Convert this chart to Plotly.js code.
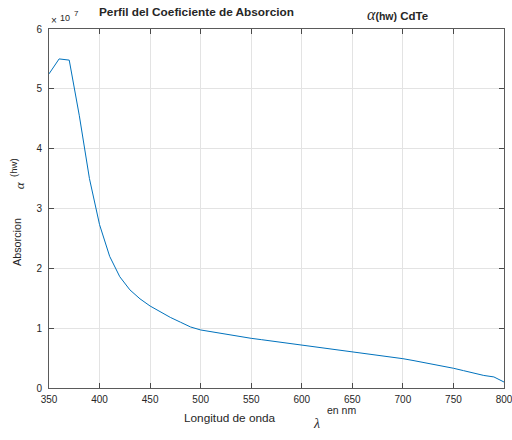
<!DOCTYPE html>
<html>
<head>
<meta charset="utf-8">
<script src="https://cdn.plot.ly/plotly-3.0.1.min.js"></script>
<style>html,body{margin:0;padding:0;background:#fff}#chart{width:512px;height:440px}</style>
</head>
<body>
<div id="chart"></div>
<script>
// Wavelength (nm)
var wavelength = [350,360,370,380,390,400,410,420,430,440,450,460,470,480,490,500,510,520,530,540,550,560,570,580,590,600,610,620,630,640,650,660,670,680,690,700,710,720,730,740,750,760,770,780,790,800];
// Absorption coefficient alpha(hw) CdTe, in units of 1e7
var absorcionE7 = [5.25,5.50,5.48,4.55,3.50,2.73,2.20,1.86,1.64,1.49,1.37,1.27,1.18,1.10,1.02,0.97,0.94,0.91,0.885,0.858,0.83,0.808,0.786,0.764,0.742,0.72,0.697,0.673,0.649,0.625,0.60,0.58,0.56,0.54,0.515,0.49,0.46,0.43,0.40,0.37,0.33,0.29,0.25,0.21,0.185,0.10];
var yTickVals = [0,1,2,3,4,5,6];
var xTickVals = [350,400,450,500,550,600,650,700,750,800];

var txt = '#262626';
var sans = 'Liberation Sans, Arial, sans-serif';
var serif = 'Liberation Serif, DejaVu Serif, serif';

var trace = {
  x: wavelength, y: absorcionE7, type: 'scatter', mode: 'lines',
  line: {color: '#0072BD', width: 1}, hoverinfo: 'skip'
};

var axisCommon = {
  showline: true, linecolor: '#5a5a5a', linewidth: 1, mirror: 'ticks',
  ticks: 'inside', ticklen: 5, tickcolor: '#4a4a4a', tickwidth: 1,
  showgrid: true, gridcolor: '#e3e3e3', gridwidth: 1, zeroline: false,
  tickfont: {family: sans, size: 10, color: txt}
};

var layout = {
  width: 512, height: 440,
  margin: {l: 49, r: 8, t: 29, b: 52},
  paper_bgcolor: '#ffffff', plot_bgcolor: '#ffffff',
  showlegend: false,
  xaxis: Object.assign({}, axisCommon, {range: [350, 800], tickvals: xTickVals, ticklabelstandoff: 2, ticklabeloverflow: 'allow'}),
  yaxis: Object.assign({}, axisCommon, {range: [0, 6], tickvals: yTickVals, ticklabelstandoff: 4}),
  annotations: [
    {text: '<b>Perfil del Coeficiente de Absorcion</b>', xref: 'paper', yref: 'paper', x: 0.325, y: 1.046, xanchor: 'center', yanchor: 'middle', showarrow: false, font: {family: sans, size: 11.8, color: txt}},
    {text: '<span style="font-family:Liberation Serif, DejaVu Serif, serif;font-style:italic;font-size:16px">α</span><span style="font-size:10.5px"><b>(hw)</b></span><b> CdTe</b>', xref: 'paper', yref: 'paper', x: 0.695, y: 1.040, xanchor: 'left', yanchor: 'middle', showarrow: false, font: {family: sans, size: 11.5, color: txt}},
    {text: '×', xref: 'paper', yref: 'paper', x: 0.0099, y: 1.023, xanchor: 'center', yanchor: 'middle', showarrow: false, font: {family: sans, size: 10, color: txt}},
    {text: '10', xref: 'paper', yref: 'paper', x: 0.035, y: 1.032, xanchor: 'center', yanchor: 'middle', showarrow: false, font: {family: sans, size: 9, color: txt}},
    {text: '7', xref: 'paper', yref: 'paper', x: 0.0615, y: 1.042, xanchor: 'center', yanchor: 'middle', showarrow: false, font: {family: sans, size: 8, color: txt}},
    {text: 'Absorcion', xref: 'paper', yref: 'paper', x: -0.0703, y: 0.4067, xanchor: 'center', yanchor: 'middle', textangle: -90, showarrow: false, font: {family: sans, size: 10.8, color: txt}},
    {text: '(hw)', xref: 'paper', yref: 'paper', x: -0.0770, y: 0.613, xanchor: 'center', yanchor: 'middle', textangle: -90, showarrow: false, font: {family: sans, size: 9.5, color: txt}},
    {text: '<i>α</i>', xref: 'paper', yref: 'paper', x: -0.0660, y: 0.565, xanchor: 'center', yanchor: 'middle', textangle: -90, showarrow: false, font: {family: serif, size: 13, color: txt}},
    {text: 'Longitud de onda', xref: 'paper', yref: 'paper', x: 0.398, y: -0.0836, xanchor: 'center', yanchor: 'middle', showarrow: false, font: {family: sans, size: 11.8, color: txt}},
    {text: '<i>λ</i>', xref: 'paper', yref: 'paper', x: 0.589, y: -0.100, xanchor: 'center', yanchor: 'middle', showarrow: false, font: {family: serif, size: 14, color: txt}},
    {text: 'en nm', xref: 'paper', yref: 'paper', x: 0.642, y: -0.061, xanchor: 'center', yanchor: 'middle', showarrow: false, font: {family: sans, size: 10.5, color: txt}}
  ]
};

Plotly.newPlot('chart', [trace], layout, {displayModeBar: false, staticPlot: true});
</script>
</body>
</html>
